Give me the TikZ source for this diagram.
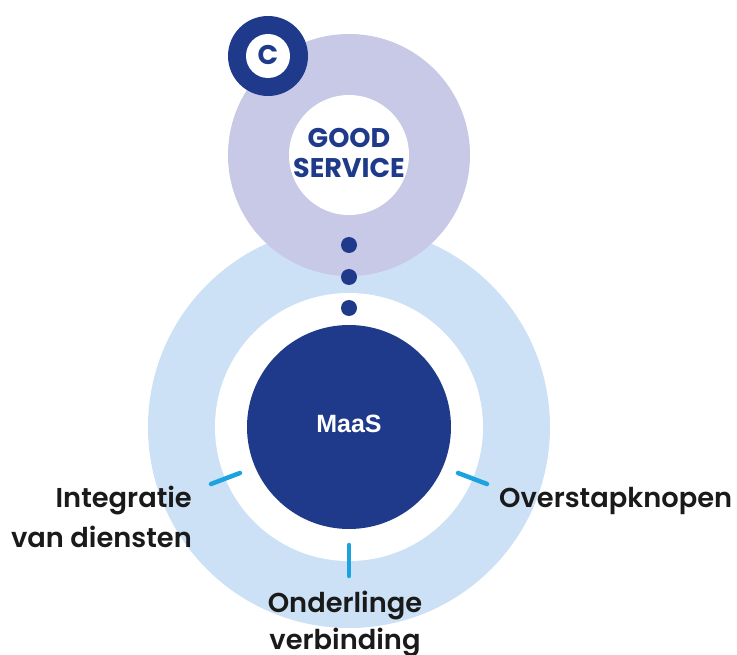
\documentclass[tikz,border=0pt]{standalone}
\usepackage{fontspec}
\setmainfont{Poppins}[BoldFont={Poppins SemiBold}]
\newfontfamily\arialfont{Liberation Sans}
\newfontfamily\headfont{Poppins}[UprightFont={Poppins Bold}]
\definecolor{darkblue}{HTML}{1F3A8A}
\definecolor{lavender}{HTML}{C8C8E7}
\definecolor{lightblue}{HTML}{CCE1F5}
\definecolor{tickblue}{HTML}{1BA3E0}
\definecolor{textblack}{HTML}{1A1A1A}
\begin{document}
\begin{tikzpicture}[x=1pt,y=-1pt,
  disc/.style={circle,inner sep=0pt,minimum size=#1},
  tickline/.style={draw=tickblue,line width=4.5pt,line cap=round},
  label/.style={font=\fontsize{27.3}{36}\selectfont\bfseries,text=textblack,align=#1,inner sep=0pt},
  dotnode/.style={circle,fill=darkblue,inner sep=0pt,minimum size=16pt}]
\useasboundingbox (0,0) rectangle (737,655);
% outer light blue ring
\node[disc=402pt,fill=lightblue] (outer) at (349,427) {};
% purple circle
\node[disc=242pt,fill=lavender] (good) at (349,155) {};
\node[disc=120pt,fill=white] (goodin) at (349,155) {};
\node[font=\headfont\fontsize{27}{30}\selectfont,text=darkblue,align=center] (goodtxt) at (349,153) {GOOD\\SERVICE};
% inner white
\node[disc=268pt,fill=white] (inner) at (349,427) {};
% MaaS circle
\node[disc=204pt,fill=darkblue] (maas) at (349,427) {};
\node[font=\arialfont\bfseries\fontsize{25}{28}\selectfont,text=white] (maastxt) at (349,424) {MaaS};
% C badge
\node[disc=80pt,fill=darkblue] (cbadge) at (268,56) {};
\node[disc=44pt,fill=white] (cin) at (268,56) {};
\node[font=\headfont\fontsize{27}{28}\selectfont,text=darkblue] (ctxt) at (268,55) {C};
% dots
\node[dotnode] (d1) at (349,245) {};
\node[dotnode] (d2) at (349,277) {};
\node[dotnode] (d3) at (349,308) {};
% ticks
\coordinate (tl1) at (211,484); \coordinate (tl2) at (240,473);
\coordinate (tr1) at (458,473); \coordinate (tr2) at (487,484);
\coordinate (tb1) at (349,545); \coordinate (tb2) at (349,576);
\draw[tickline] (tl1) -- (tl2);
\draw[tickline] (tr1) -- (tr2);
\draw[tickline] (tb1) -- (tb2);
% labels
\node[label=right,anchor=base east] (lint) at (192,507) {Integratie};
\node[label=right,anchor=base east] (lvan) at (192,547) {van diensten};
\node[label=left,anchor=base west] (lover) at (499,507) {Overstapknopen};
\node[label=center,anchor=base] (lond) at (345,612) {Onderlinge};
\node[label=center,anchor=base] (lver) at (345,649) {verbinding};
\end{tikzpicture}
\end{document}
